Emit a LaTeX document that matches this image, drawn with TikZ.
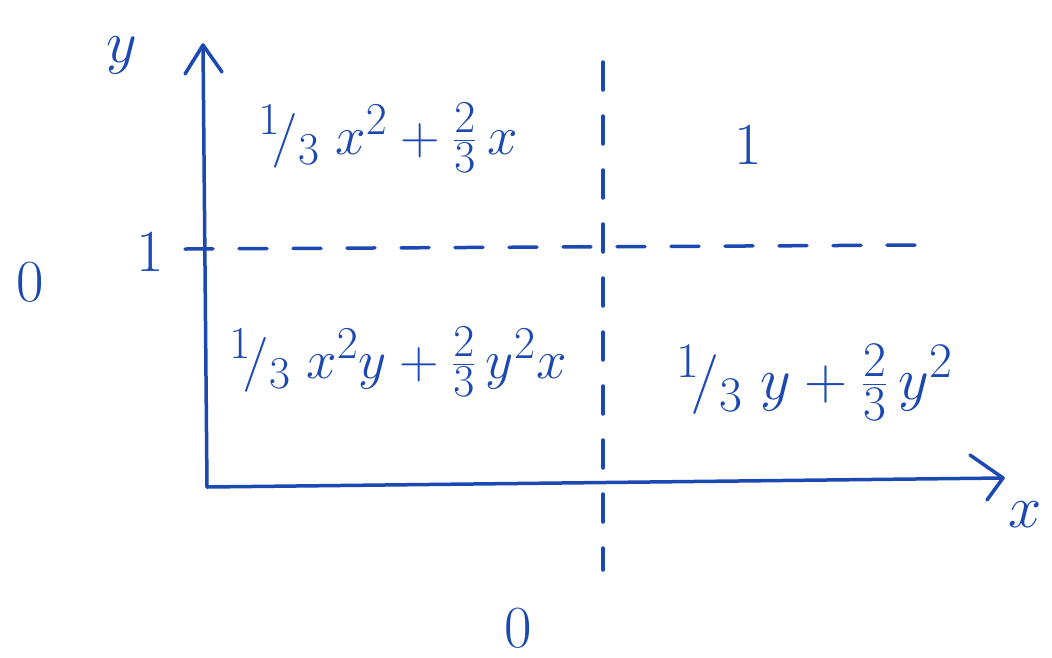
\documentclass[tikz,border=0pt]{standalone}
\usepackage{graphicx}
\usetikzlibrary{arrows.meta}
\definecolor{ink}{RGB}{28,72,178}
\newcommand{\bigtxt}[1]{\scalebox{2.2}{\Huge #1}}
\newcommand{\axtxt}[1]{\scalebox{2.4}{\Huge #1}}
\begin{document}
\begin{tikzpicture}[x=1pt,y=-1pt,
  pen/.style={draw=ink,line width=3.5pt,line cap=round,line join=round},
  dashline/.style={pen,dash pattern=on 28pt off 26pt},
  lbl/.style={text=ink,inner sep=0pt},
  axlbl/.style={text=ink,inner sep=0pt}]
\useasboundingbox (0,0) rectangle (1052,657);
\coordinate (O) at (207,487);
\coordinate (ytop) at (203,45);
\coordinate (xend) at (1003,478);
\draw[pen] (O) -- (ytop);
\draw[pen] (185,74) -- (ytop) -- (222,72);
\draw[pen] (O) -- (xend);
\draw[pen] (970,455) -- (xend) -- (987,500);
\coordinate (vtop) at (603,62);
\coordinate (vbot) at (603,570);
\draw[dashline] (vtop) -- (vbot);
\coordinate (hl) at (185,249);
\coordinate (hr) at (930,245);
\draw[dashline] (hl) -- (hr);
\node[axlbl] (ylab) at (122,55) {\axtxt{$y$}};
\node[axlbl] (xlab) at (1025,515) {\axtxt{$x$}};
\node[axlbl] (one) at (150,252) {\axtxt{$1$}};
\node[axlbl] (zeroL) at (30,282) {\axtxt{$0$}};
\node[axlbl] (zeroB) at (518,628) {\axtxt{$0$}};
\node[axlbl] (oneTR) at (748,145) {\axtxt{$1$}};
\node[lbl] (tl) at (388,138) {\bigtxt{${}^1\!/_3\;x^2+\frac{2}{3}\,x$}};
\node[lbl] (bl) at (398,362) {\bigtxt{${}^1\!/_3\;x^2y+\frac{2}{3}\,y^2x$}};
\node[lbl] (br) at (815,382) {\scalebox{2.4}{\Huge ${}^1\!/_3\;y+\frac{2}{3}\,y^2$}};
\end{tikzpicture}
\end{document}
